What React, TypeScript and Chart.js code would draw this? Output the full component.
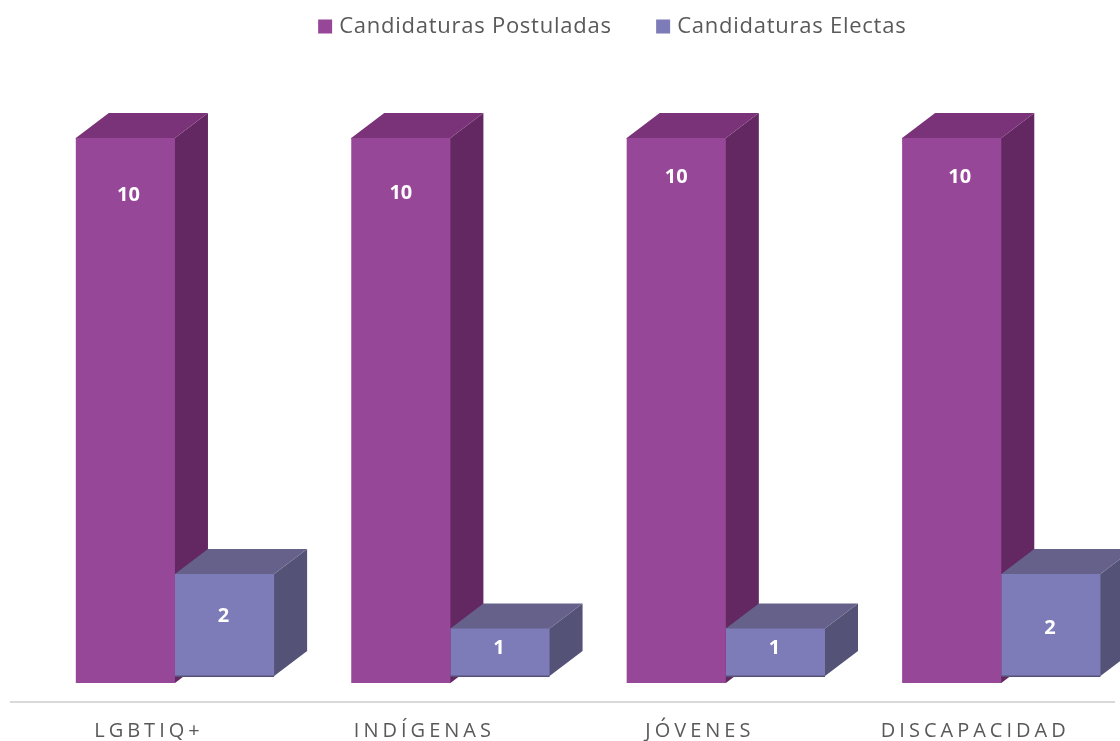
import React, { useEffect, useRef } from "react";
import { Chart, registerables } from "chart.js";

Chart.register(...registerables);

const categories = ["LGBTIQ+", "INDÍGENAS", "JÓVENES", "DISCAPACIDAD"];
const postuladas = [10, 10, 10, 10];
const electas = [2, 1, 1, 2];
const postuladasNudge = [[3, 57], [0, 55], [0, 39], [8, 39]];
const electasNudge = [[-1, 42], [-1, 20], [-1, 20], [-1, 54]];

const FACE = [
  { front: "#964798", top: "#7A3378", side: "#632861" },
  { front: "#7E7BB9", top: "#65618A", side: "#545377" },
];
const DEPTH_X = 33;
const DEPTH_Y = 25;
const LEGEND_SHIFT = 10;

const solid = (ctx: CanvasRenderingContext2D, color: string, pts: number[][]) => {
  ctx.fillStyle = color;
  ctx.beginPath();
  pts.forEach(([x, y], i) => (i ? ctx.lineTo(x, y) : ctx.moveTo(x, y)));
  ctx.closePath();
  ctx.fill();
};

const extrude = {
  id: "extrude",
  afterLayout(chart: any) {
    chart.legend.left += LEGEND_SHIFT;
    chart.legend.right += LEGEND_SHIFT;
  },
  beforeDraw(chart: any) {
    chart.ctx.letterSpacing = "0.75px";
    const s = chart.scales.x;
    chart.ctx.fillStyle = "#D9D9D9";
    chart.ctx.fillRect(10, s.top - 1, 1105, 2);
  },
  beforeDatasetsDraw(chart: any) {
    const ctx = chart.ctx;
    ctx.letterSpacing = "0px";
    [0, 1].forEach((d) => {
      chart.getDatasetMeta(d).data.forEach((b: any) => {
        const l = b.x - b.width / 2;
        const r = b.x + b.width / 2;
        const c = FACE[d];
        solid(ctx, c.side, [[r - 1, b.y], [r, b.y], [r + DEPTH_X, b.y - DEPTH_Y], [r + DEPTH_X, b.base - DEPTH_Y], [r, b.base], [r - 1, b.base]]);
        solid(ctx, c.top, [[l, b.y + 1], [l, b.y], [l + DEPTH_X, b.y - DEPTH_Y], [r + DEPTH_X, b.y - DEPTH_Y], [r, b.y], [r, b.y + 1]]);
      });
    });
  },
  afterDatasetsDraw(chart: any) {
    const ctx = chart.ctx;
    chart.getDatasetMeta(1).data.forEach((b: any) => {
      ctx.fillStyle = FACE[1].side;
      ctx.fillRect(b.x - b.width / 2, b.base - 0.5, b.width, 1.5);
    });
    ctx.fillStyle = "#FFFFFF";
    ctx.font = "bold 20px 'Open Sans'";
    ctx.textAlign = "center";
    ctx.textBaseline = "middle";
    [postuladasNudge, electasNudge].forEach((nudge, d) => {
      const meta = chart.getDatasetMeta(d);
      meta.data.forEach((b: any, i: number) => {
        ctx.fillText(String(chart.data.datasets[d].data[i]), b.x + nudge[i][0], b.y + nudge[i][1]);
      });
    });
    ctx.letterSpacing = "4px";
  },
};

export default function App() {
  const ref = useRef<HTMLCanvasElement>(null);
  useEffect(() => {
    const chart = new Chart(ref.current!, {
      type: "bar",
      data: {
        labels: categories,
        datasets: [
          { label: "Candidaturas Postuladas", data: postuladas, backgroundColor: FACE[0].front, borderWidth: 0 },
          { label: "Candidaturas Electas", data: electas, backgroundColor: FACE[1].front, borderWidth: 0, base: 0.128 },
        ],
      },
      options: {
        animation: false,
        responsive: false,
        layout: { padding: { top: -33, left: 37.25, right: 61, bottom: 0 } },
        datasets: { bar: { categoryPercentage: 0.72, barPercentage: 1 } },
        scales: {
          x: {
            grid: { display: false },
            border: { display: false },
            afterFit: (s: any) => { s.height = 39; },
            ticks: {
              z: 1,
              autoSkip: false,
              maxRotation: 0,
              labelOffset: -26,
              padding: 9,
              color: "#595959",
              font: { family: "'Open Sans'", size: 20 },
            },
          },
          y: { display: false, min: -0.3486, max: 11.66 },
        },
        plugins: {
          tooltip: { enabled: false },
          legend: {
            position: "top",
            labels: {
              boxWidth: 6,
              boxHeight: 6,
              padding: 48.5,
              color: "#595959",
              font: { family: "'Open Sans'", size: 22 },
              generateLabels: (c: any) =>
                c.data.datasets.map((ds: any, i: number) => ({
                  text: ds.label,
                  fillStyle: FACE[i].front,
                  strokeStyle: FACE[i].front,
                  fontColor: "#595959",
                  lineWidth: 8,
                  datasetIndex: i,
                })),
            },
          },
        },
      } as any,
      plugins: [extrude],
    });
    return () => chart.destroy();
  }, []);
  return (
    <div style={{ position: "absolute", left: 0, top: 0, width: 1120, height: 741, overflow: "hidden" }}>
      <canvas ref={ref} width={1200} height={741} style={{ display: "block" }} />
    </div>
  );
}
